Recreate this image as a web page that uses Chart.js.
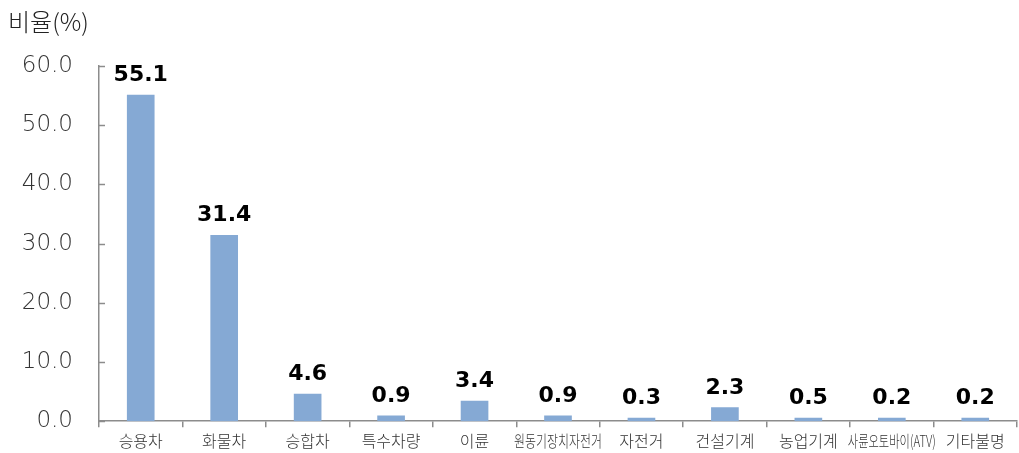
<!DOCTYPE html>
<html><head><meta charset="utf-8">
<script src="https://cdn.jsdelivr.net/npm/chart.js@4/dist/chart.umd.min.js"></script>
<style>html,body{margin:0;padding:0;background:#fff}#wrap{width:1019px;height:453px;position:relative}</style>
</head><body><div id="wrap"><canvas id="c" width="1019" height="453"></canvas></div>
<script>
const categories = ['승용차','화물차','승합차','특수차량','이륜','원동기장치자전거','자전거','건설기계','농업기계','사륜오토바이(ATV)','기타불명'];
const values = [55.1, 31.4, 4.6, 0.9, 3.4, 0.9, 0.3, 2.3, 0.5, 0.2, 0.2];
const yTicks = [0, 10, 20, 30, 40, 50, 60];
const yTitle = '비율(%)';

const FONT = "'Noto Sans CJK KR','Noto Sans',sans-serif";
const NUMFONT = "'DejaVu Sans','Noto Sans',sans-serif";

const extras = {
  id: 'extras',
  afterDatasetsDraw(chart) {
    const ctx = chart.ctx;
    const y = chart.scales.y, x = chart.scales.x;
    ctx.save();
    ctx.strokeStyle = '#8c8c8c';
    ctx.lineWidth = 1.5;
    yTicks.forEach(v => {
      const py = Math.round(y.getPixelForValue(v)) + 0.5;
      ctx.beginPath();
      ctx.moveTo(x.left, py);
      ctx.lineTo(x.left + 6, py);
      ctx.stroke();
    });
    const meta = chart.getDatasetMeta(0);
    ctx.fillStyle = '#000';
    ctx.font = "bold 22px " + NUMFONT;
    ctx.textAlign = 'center';
    ctx.textBaseline = 'alphabetic';
    meta.data.forEach((bar, i) => {
      ctx.fillText(values[i].toFixed(1), bar.x, bar.y - 14);
    });
    ctx.font = "300 16px " + FONT;
    ctx.fillStyle = '#333';
    ctx.textBaseline = 'middle';
    ctx.textAlign = 'center';
    const maxW = 88;
    categories.forEach((c, i) => {
      const px = x.getPixelForValue(i);
      const w = ctx.measureText(c).width;
      ctx.save();
      ctx.translate(px, 441);
      if (w > maxW) ctx.scale(maxW / w, 1);
      ctx.fillText(c, 0, 0);
      ctx.restore();
    });
    ctx.font = "300 24px " + FONT;
    ctx.fillStyle = '#222';
    ctx.textAlign = 'left';
    ctx.textBaseline = 'middle';
    ctx.fillText(yTitle, 8, 22);
    ctx.restore();
  }
};

new Chart(document.getElementById('c'), {
  type: 'bar',
  data: { labels: categories, datasets: [{ data: values, backgroundColor: '#85a9d4', barThickness: 27, minBarLength: 3 }] },
  options: {
    responsive: false, animation: false,
    layout: { padding: { top: 66, right: 2, left: 0, bottom: 0 } },
    plugins: { legend: { display: false }, tooltip: { enabled: false } },
    scales: {
      x: {
        grid: { display: true, offset: true, drawOnChartArea: false, tickLength: 6, color: '#8c8c8c', lineWidth: 1.5 },
        border: { display: true, color: '#8c8c8c', width: 1.5 },
        ticks: { display: false },
        afterFit(s) { s.height = 29; }
      },
      y: {
        min: 0, max: 60,
        afterBuildTicks(s) { s.ticks = yTicks.map(v => ({ value: v })); },
        grid: { display: false },
        border: { display: true, color: '#8c8c8c', width: 1.5 },
        ticks: { color: '#333', font: { family: NUMFONT, size: 23, weight: 200 }, padding: 18, callback: v => Number(v).toFixed(1) },
        afterFit(s) { s.width = 99; }
      }
    }
  },
  plugins: [extras]
});
</script></body></html>
